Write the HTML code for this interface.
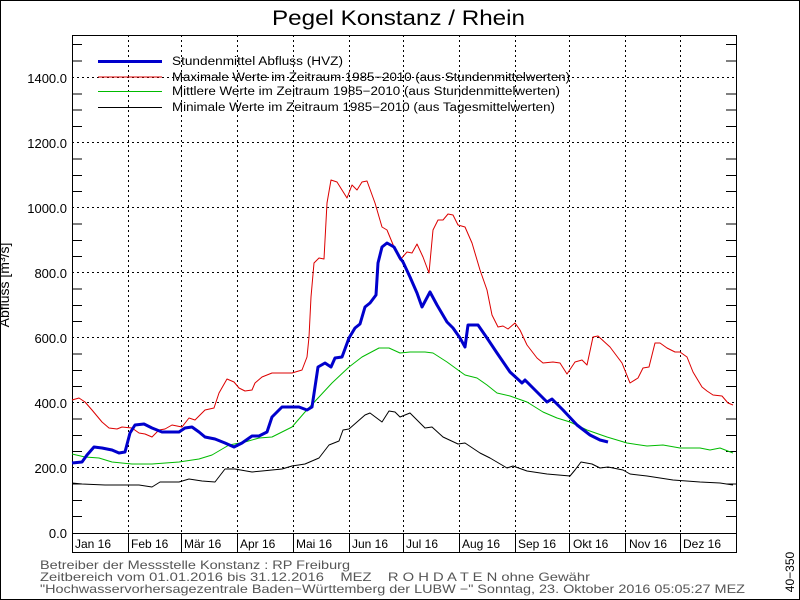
<!DOCTYPE html>
<html><head><meta charset="utf-8"><style>
body{margin:0;background:#fff}
svg{display:block;font-family:"Liberation Sans",sans-serif}
text{white-space:pre}
</style></head><body>
<svg width="800" height="600" xmlns="http://www.w3.org/2000/svg">
<rect x="0.5" y="0.5" width="799" height="599" fill="#fff" stroke="#000"/>
<text x="272" y="25" font-size="21" textLength="253" lengthAdjust="spacingAndGlyphs">Pegel Konstanz / Rhein</text>
<rect x="72.5" y="35.5" width="664" height="517" fill="none" stroke="#000"/>
<line x1="72" y1="533.5" x2="736" y2="533.5" stroke="#000"/>
<g stroke="#000" stroke-dasharray="2,3">
<line x1="72" y1="467.5" x2="736" y2="467.5"/><line x1="72" y1="402.5" x2="736" y2="402.5"/><line x1="72" y1="337.5" x2="736" y2="337.5"/><line x1="72" y1="272.5" x2="736" y2="272.5"/><line x1="72" y1="207.5" x2="736" y2="207.5"/><line x1="72" y1="142.5" x2="736" y2="142.5"/><line x1="72" y1="77.5" x2="736" y2="77.5"/>
<line x1="128.5" y1="35" x2="128.5" y2="533"/><line x1="181.5" y1="35" x2="181.5" y2="533"/><line x1="237.5" y1="35" x2="237.5" y2="533"/><line x1="293.5" y1="35" x2="293.5" y2="533"/><line x1="349.5" y1="35" x2="349.5" y2="533"/><line x1="403.5" y1="35" x2="403.5" y2="533"/><line x1="459.5" y1="35" x2="459.5" y2="533"/><line x1="515.5" y1="35" x2="515.5" y2="533"/><line x1="569.5" y1="35" x2="569.5" y2="533"/><line x1="625.5" y1="35" x2="625.5" y2="533"/><line x1="680.5" y1="35" x2="680.5" y2="533"/>
</g>
<g stroke="#000">
<line x1="128.5" y1="533" x2="128.5" y2="552"/><line x1="181.5" y1="533" x2="181.5" y2="552"/><line x1="237.5" y1="533" x2="237.5" y2="552"/><line x1="293.5" y1="533" x2="293.5" y2="552"/><line x1="349.5" y1="533" x2="349.5" y2="552"/><line x1="403.5" y1="533" x2="403.5" y2="552"/><line x1="459.5" y1="533" x2="459.5" y2="552"/><line x1="515.5" y1="533" x2="515.5" y2="552"/><line x1="569.5" y1="533" x2="569.5" y2="552"/><line x1="625.5" y1="533" x2="625.5" y2="552"/><line x1="680.5" y1="533" x2="680.5" y2="552"/>
</g>
<g stroke="#000">
<path d="M72 44.5h10M72 61h10M72 94h10M72 110h10M72 126.5h10M72 159h10M72 175.5h10M72 191.5h10M72 224h10M72 240.5h10M72 256.5h10M72 289h10M72 305.5h10M72 321.5h10M72 354h10M72 370.5h10M72 386.5h10M72 419h10M72 435.5h10M72 451.5h10M72 484h10M72 500.5h10M72 516.5h10"/>
<path d="M736 44.5h-10M736 61h-10M736 94h-10M736 110h-10M736 126.5h-10M736 159h-10M736 175.5h-10M736 191.5h-10M736 224h-10M736 240.5h-10M736 256.5h-10M736 289h-10M736 305.5h-10M736 321.5h-10M736 354h-10M736 370.5h-10M736 386.5h-10M736 419h-10M736 435.5h-10M736 451.5h-10M736 484h-10M736 500.5h-10M736 516.5h-10"/>
</g>
<g font-size="13" text-anchor="end">
<text x="67" y="83">1400.0</text><text x="67" y="148">1200.0</text><text x="67" y="213">1000.0</text><text x="67" y="278">800.0</text><text x="67" y="343">600.0</text><text x="67" y="408">400.0</text><text x="67" y="473">200.0</text><text x="67" y="538">0.0</text>
</g>
<text transform="translate(9,285) rotate(-90)" font-size="14" text-anchor="middle">Abfluss [m³/s]</text>
<g font-size="12">
<text x="75" y="548">Jan 16</text><text x="131" y="548">Feb 16</text><text x="184" y="548">Mär 16</text><text x="240" y="548">Apr 16</text><text x="296" y="548">Mai 16</text><text x="352" y="548">Jun 16</text><text x="406" y="548">Jul 16</text><text x="462" y="548">Aug 16</text><text x="518" y="548">Sep 16</text><text x="573" y="548">Okt 16</text><text x="629" y="548">Nov 16</text><text x="683" y="548">Dez 16</text>
</g>
<g font-size="12" fill="#555">
<text x="40" y="569" textLength="310" lengthAdjust="spacingAndGlyphs">Betreiber der Messstelle Konstanz : RP Freiburg</text>
<text x="40" y="581" textLength="550" lengthAdjust="spacingAndGlyphs">Zeitbereich vom 01.01.2016 bis 31.12.2016    MEZ    R O H D A T E N ohne Gewähr</text>
<text x="40" y="593" textLength="705" lengthAdjust="spacingAndGlyphs">"Hochwasservorhersagezentrale Baden−Württemberg der LUBW −" Sonntag, 23. Oktober 2016 05:05:27 MEZ</text>
</g>
<text transform="translate(794,572) rotate(-90)" font-size="12" text-anchor="middle">40−350</text>
<g font-size="11.5">
<line x1="98" y1="61.5" x2="162" y2="61.5" stroke="#0000cc" stroke-width="3"/><text x="172" y="65" textLength="171" lengthAdjust="spacingAndGlyphs">Stundenmittel Abfluss (HVZ)</text>
<line x1="98" y1="77" x2="162" y2="77" stroke="#dd0000"/><text x="172" y="81" textLength="398" lengthAdjust="spacingAndGlyphs">Maximale Werte im Zeitraum 1985−2010 (aus Stundenmittelwerten)</text>
<line x1="98" y1="91.5" x2="162" y2="91.5" stroke="#00bb00"/><text x="172" y="95" textLength="388" lengthAdjust="spacingAndGlyphs">Mittlere Werte im Zeitraum 1985−2010 (aus Stundenmittelwerten)</text>
<line x1="98" y1="107.5" x2="162" y2="107.5" stroke="#000"/><text x="172" y="111" textLength="383" lengthAdjust="spacingAndGlyphs">Minimale Werte im Zeitraum 1985−2010 (aus Tagesmittelwerten)</text>
</g>
<g fill="none" stroke-linejoin="round">
<polyline stroke="#dd0000" points="72,400 79,398 85,402 92,410 102,422 109,428 117,429 122,427 132,428 139,433 145,434 152,437 159,430 165,429 172,425 182,427 189,418 195,420 205,410 214,408 219,393 227,379 234,382 239,388 245,391 252,390 255,383 262,377 272,373 285,373 292,373 302,370 307,357 309,337 311,297 314,263 319,258 324,259 327,203 331,180 337,182 347,198 352,185 357,190 362,182 367,181 375,203 382,227 387,230 394,247 400,260 407,252 412,253 417,244 423,257 429,273 433,230 438,220 443,220 448,214 453,215 458,225 465,227 472,243 480,270 487,290 492,315 498,327 503,326 508,329 515,323 520,330 527,345 537,358 543,363 553,362 560,363 567,374 575,362 582,360 587,365 593,337 598,336 610,347 622,363 630,383 638,378 643,368 649,367 655,343 660,343 667,348 675,352 680,352 687,357 693,372 702,387 707,391 713,395 722,396 728,403 733,405"/>
<polyline stroke="#00bb00" points="72,454 85,457 99,458 112,462 132,464 152,464 179,462 199,459 212,455 229,445 245,442 259,438 272,437 292,427 305,412 319,397 332,383 349,367 362,357 379,348 389,348 400,353 410,352 425,352 433,353 447,362 458,370 465,375 477,378 487,385 497,393 510,396 527,402 543,412 557,418 570,422 587,430 607,437 627,443 647,446 663,445 680,448 700,448 710,450 720,448 733,453"/>
<polyline stroke="#000" points="72,483 82,484 105,485 139,485 152,487 160,482 179,482 189,479 202,481 215,482 225,469 235,469 252,472 262,471 282,469 292,466 305,464 319,458 329,445 339,441 343,430 349,429 365,415 370,413 382,422 389,411 395,412 400,417 410,413 425,428 432,427 443,437 458,444 465,443 480,453 490,458 507,468 513,466 527,471 547,474 570,476 575,470 581,462 592,464 600,468 608,467 623,470 630,474 647,476 673,480 700,482 720,483 733,485"/>
<polyline stroke="#0000cc" stroke-width="3" points="72,463 82,462 87,455 94,447 102,448 112,450 119,453 125,452 130,433 135,425 144,424 152,428 162,432 169,432 179,432 185,428 192,427 199,432 205,437 215,439 225,443 234,447 242,443 252,436 259,436 267,432 272,417 282,407 299,407 307,410 312,407 318,367 325,363 331,367 335,358 342,357 349,338 355,328 360,324 365,307 370,303 376,295 378,263 382,247 387,243 394,247 400,258 403,262 410,277 417,293 422,307 430,292 437,305 447,322 453,328 460,338 465,347 468,325 478,325 487,338 497,353 510,372 522,383 525,380 532,387 547,402 552,399 563,410 577,425 590,435 600,440 608,442"/>
</g>
</svg>
</body></html>
